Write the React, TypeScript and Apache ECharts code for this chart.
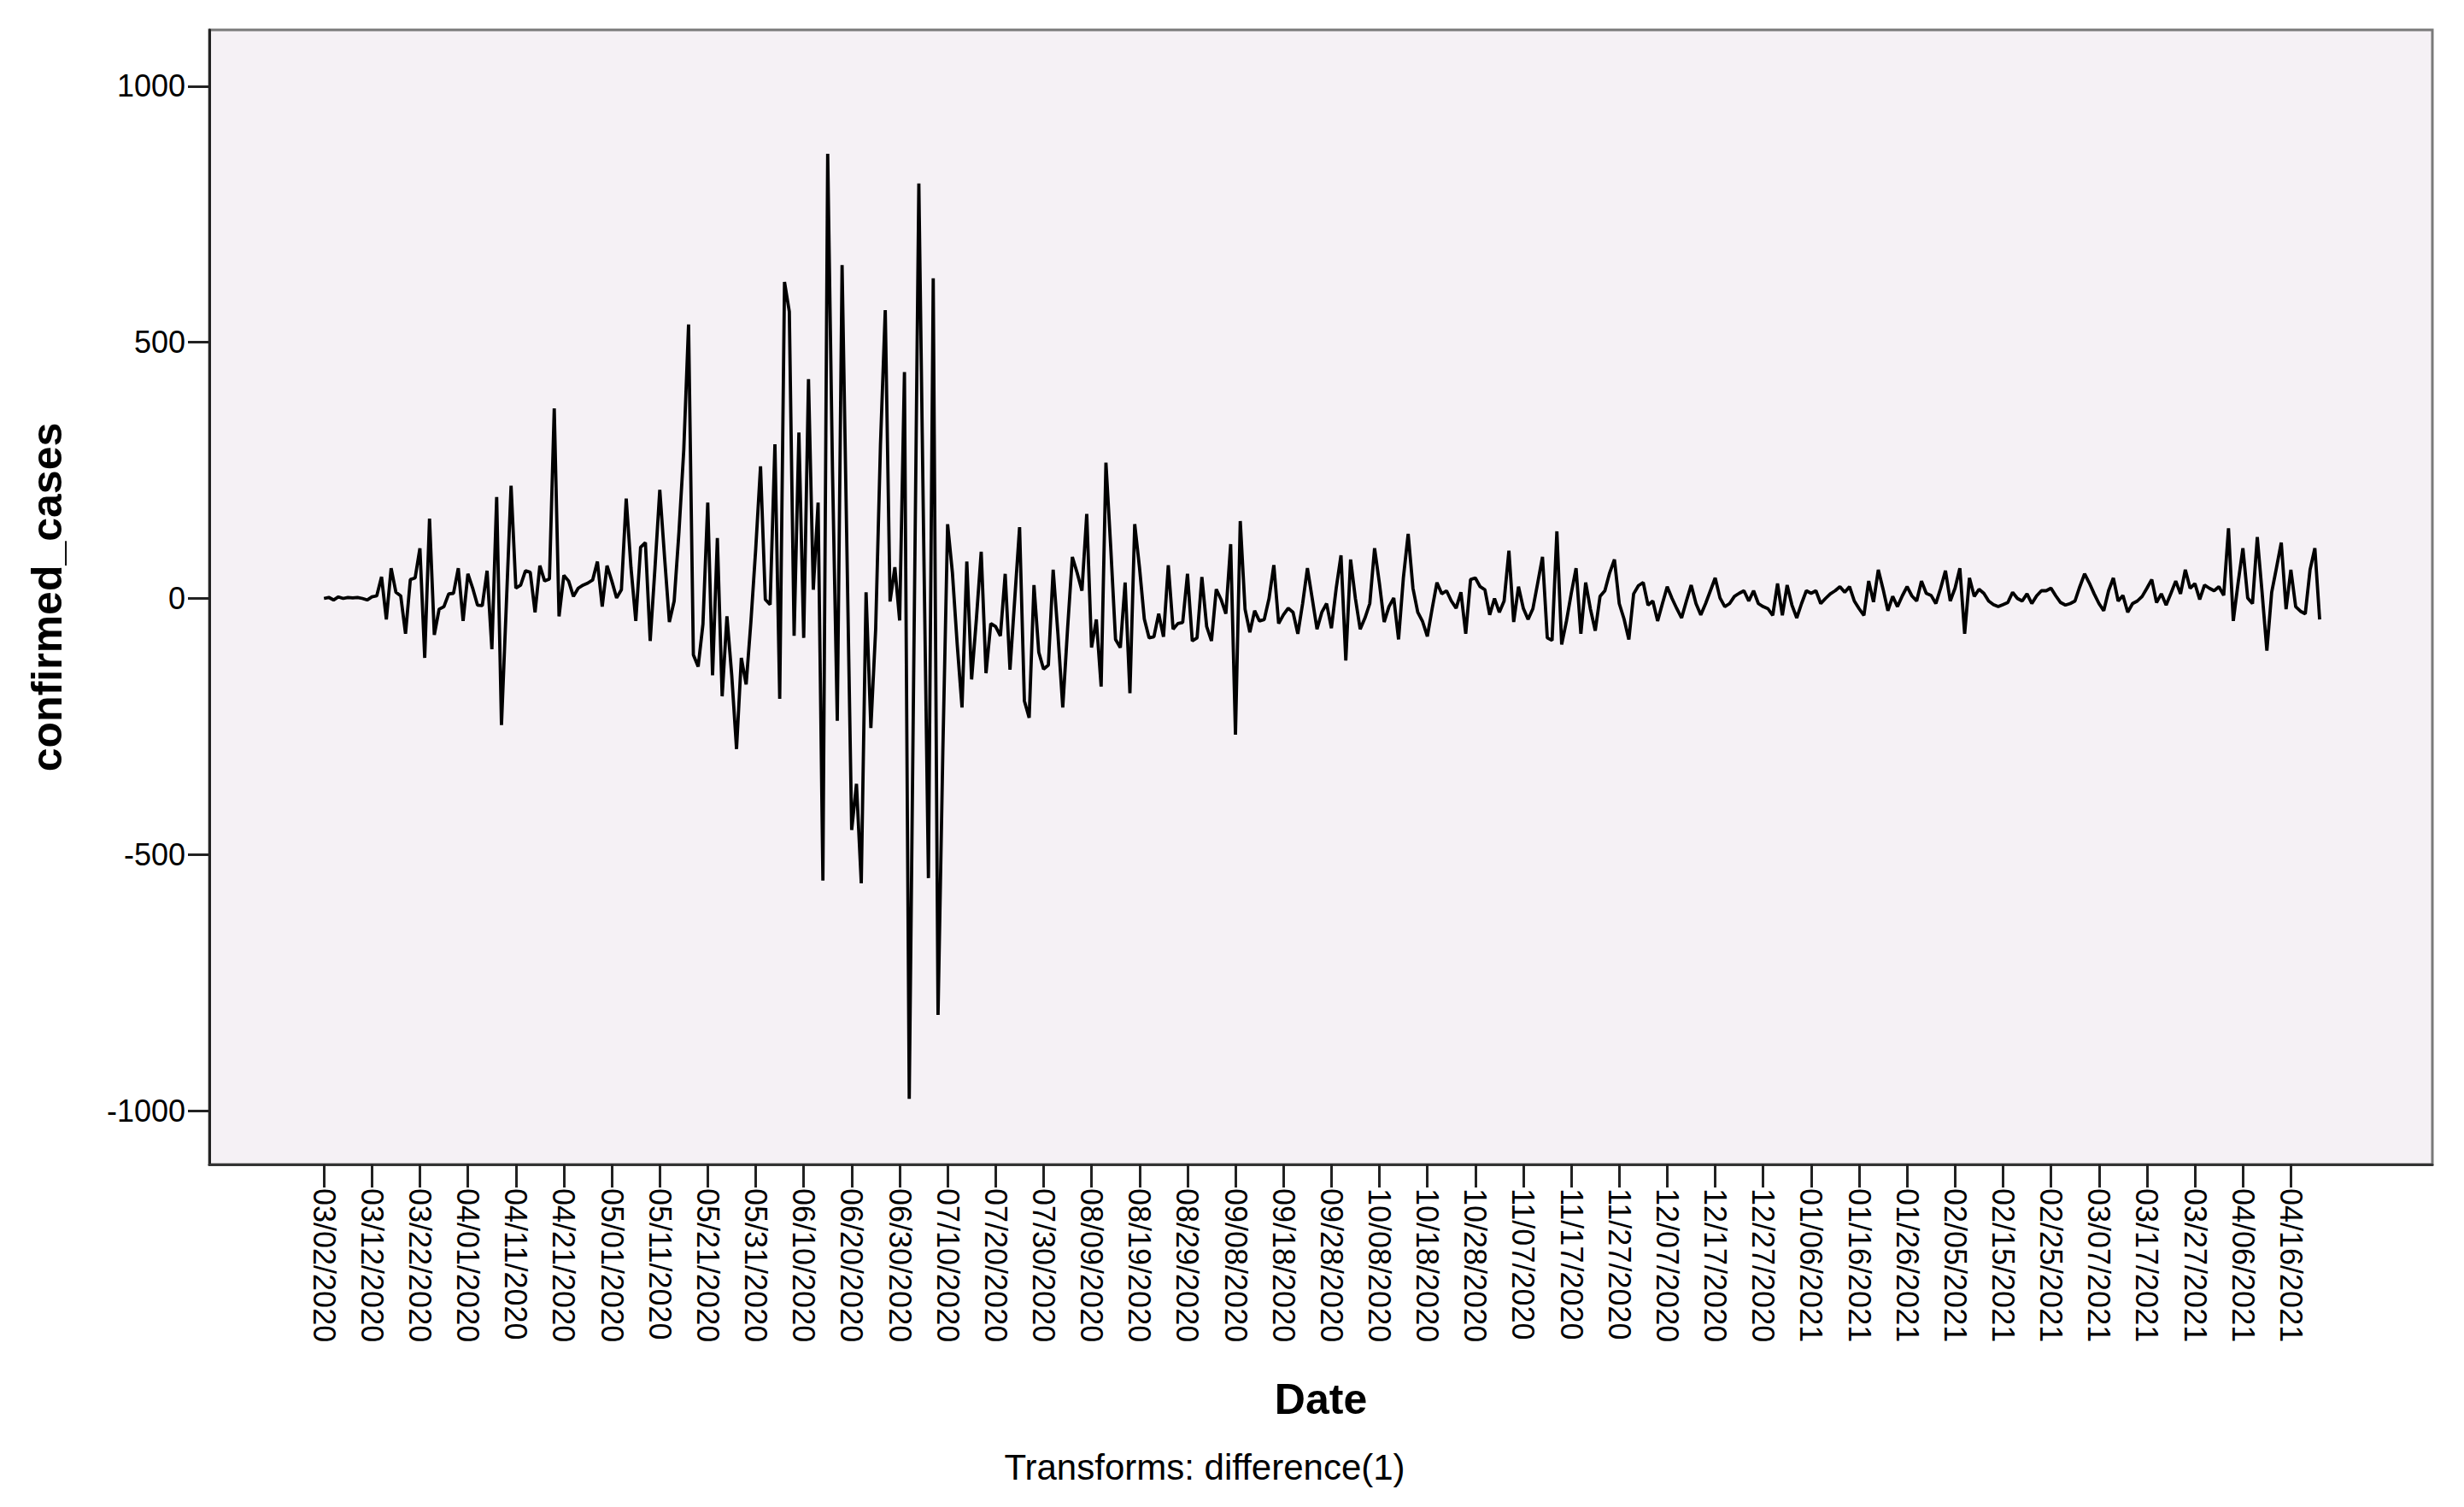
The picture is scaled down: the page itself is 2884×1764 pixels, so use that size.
import React, { useEffect, useRef } from "react";
import * as echarts from "echarts";

// First observation date of the plotted series (one value per day)
const START_YEAR = 2020;
const START_MONTH = 3;
const START_DAY = 2;

const TICK_LABELS = [
  "03/02/2020", "03/12/2020", "03/22/2020", "04/01/2020", "04/11/2020", "04/21/2020",
  "05/01/2020", "05/11/2020", "05/21/2020", "05/31/2020", "06/10/2020", "06/20/2020",
  "06/30/2020", "07/10/2020", "07/20/2020", "07/30/2020", "08/09/2020", "08/19/2020",
  "08/29/2020", "09/08/2020", "09/18/2020", "09/28/2020", "10/08/2020", "10/18/2020",
  "10/28/2020", "11/07/2020", "11/17/2020", "11/27/2020", "12/07/2020", "12/17/2020",
  "12/27/2020", "01/06/2021", "01/16/2021", "01/26/2021", "02/05/2021", "02/15/2021",
  "02/25/2021", "03/07/2021", "03/17/2021", "03/27/2021", "04/06/2021", "04/16/2021",
];

const Y_TICKS = [-1000, -500, 0, 500, 1000];

// differenced confirmed cases, in date order
const diffMarApr2020 = [
  0, 2, -3, 3, 0, 2, 1, 2, 0, -3,
  3, 5, 42, -41, 59, 12, 5, -69, 37, 40,
  98, -116, 156, -71, -21, -16, 9, 10, 59, -44,
  48, 20, -13, -14, 54, -99, 198, -247, -15, 220,
];
const diffAprMay2020 = [
  20, 26, 54, 51, -27, 64, 34, 38, 371, -35,
  45, 34, 4, 20, 26, 30, 36, 72, -16, 64,
  34, 1, 17, 195, 60, -44, 100, 109, -83, 60,
  212, 80, -46, -5, 130, 290, 535, -110, -133, -50,
  187, -150, 118, -191, -35, -150, -294,
];
const diffJun2020 = [
  -116, -168, -45, 97, 258, -2, -12, 301, -196, 618,
  560, -73, 324, -77, 428, 17, 187, -551, 868, 250,
  -239, 651, 100, -452, -362, -556, 12, -253,
];
const diffJul2020 = [
  -60, 300, 563, -6, 61, -43, 442, -977, -80, 810,
  120, -546, 625, -813, -300, 145, 50, -90, -213, 72,
  -158, -40, 91, -146, -49, -55, -73, 48, -139, 0,
  139, -200,
];
const diffAugSep2020 = [
  -233, 26, -105, -138, -130, 56, -70, -213, -60, 81,
  50, 15, 165, -96, -41, -172, 265, 100, -80, -96,
  31, -185, 145, 60, -40, -77, -75, -30, -75, 65,
  -60, -49, -47, 48, -83, -77, 42, -55, -83, 18,
  -2, -30, 106, -266, 151,
];
const diffSepOct2020 = [
  -21, -66, -24, -44, -41, 0, 65, -49, -32, -19,
  -27, -69, -10, 59, 0, -60, -27, -10, -58, 20,
  84, -121, 76, 0, -60, -38, -10, 98, 30, -46,
  -16, 1, -80, 40, 126, 20, -27, -45, -74, -20,
  31, 9, 15, -5, -19, 12, -69, 37, 40,
];
const diffNovDec2020 = [
  23, 17, -32, 0, -27, -5, 93, -46, 23, -19,
  -41, -20, 30, 81, -77, -82, 131, -90, -44, 10,
  59, -69, 31, -21, -63, 4, 15, 50, 76, -10,
  -40, -80, 9, 25, 31, -13, -5, -44, -10, 23,
  0, -20, -38, -5, 26, -10, -32, -10, 15, 40,
  1,
];
const diffDec2020Feb2021 = [
  -16, -10, 4, 10, 15, -5, 15, -10, -16, -20,
  -33, 29, -33, 26, -13, -38, -10, 15, 10, 15,
  -10, 0, 9, 15, 23, 12, 23, -5, -20, -33,
  34, -7, 56, 18, -24, 4, -16, 5, 23, 5,
  -5, 34, 10, 6, -10, 20, 54, -5, 20, 59,
];
const diffFebMar2021 = [
  -69, 40, 4, 18, 10, -5, -12, -16, -12, -8,
  12, 0, -5, 9, -10, 5, 15, 15, 20, 5,
  -8, -13, -10, -5, 23, 48, 30, 9, -10, -24,
  15, 40, -5, 6, -27, -10, -5, 4, 20, 37,
  -8, 9, -13, 10, 34,
];
const diffMarApr2021 = [
  9, 56, 20, 29, -2, 26, 20, 15, 23, 6,
  137, -44, 30, 98, 1, -10, 120, 12, -102, 12,
  60, 109, -21, 56, -16, -25, -30, 56, 98, -41,
];

const VALUES = [
  ...diffMarApr2020, ...diffAprMay2020, ...diffJun2020, ...diffJul2020,
  ...diffAugSep2020, ...diffSepOct2020, ...diffNovDec2020,
  ...diffDec2020Feb2021, ...diffFebMar2021, ...diffMarApr2021,
];

function buildDates(n: number): string[] {
  const out: string[] = [];
  const base = Date.UTC(START_YEAR, START_MONTH - 1, START_DAY);
  for (let i = 0; i < n; i++) {
    const d = new Date(base + i * 86400000);
    const mm = String(d.getUTCMonth() + 1).padStart(2, "0");
    const dd = String(d.getUTCDate()).padStart(2, "0");
    out.push(`${mm}/${dd}/${d.getUTCFullYear()}`);
  }
  return out;
}

const FONT = "'Liberation Sans', Arial, sans-serif";

export default function App() {
  const ref = useRef<HTMLDivElement>(null);

  useEffect(() => {
    document.body.style.margin = "0";
    if (!ref.current) return;
    const chart = echarts.init(ref.current, undefined, { renderer: "svg" });
    const dates = buildDates(VALUES.length);
    const tickIdx = TICK_LABELS.map((l) => dates.indexOf(l)).filter((i) => i >= 0);
    const data = VALUES.map((v, i) => [i, v]);

    chart.setOption({
      animation: false,
      backgroundColor: "#ffffff",
      grid: {
        left: 245,
        right: 37,
        top: 35,
        bottom: 401,
        show: true,
        backgroundColor: "#F5F1F5",
        borderColor: "#7a7a7a",
        borderWidth: 3,
      },
      xAxis: {
        type: "value",
        min: -23.9,
        max: 439.5,
        name: "Date",
        nameLocation: "middle",
        nameGap: 250,
        nameTextStyle: { fontFamily: FONT, fontWeight: "bold", fontSize: 50, color: "#000" },
        axisLine: { show: true, onZero: false, lineStyle: { color: "#333", width: 3 } },
        axisTick: {
          show: true,
          length: 27,
          customValues: tickIdx,
          lineStyle: { color: "#222", width: 3 },
        },
        axisLabel: {
          customValues: tickIdx,
          rotate: -90,
          margin: 28,
          fontFamily: FONT,
          fontSize: 36,
          color: "#000",
          formatter: (v: number) => dates[Math.round(v)] ?? "",
        },
        splitLine: { show: false },
      },
      yAxis: {
        type: "value",
        min: -1105,
        max: 1110,
        name: "confirmed_cases",
        nameLocation: "middle",
        nameGap: 165,
        nameTextStyle: { fontFamily: FONT, fontWeight: "bold", fontSize: 50, color: "#000" },
        axisLine: { show: true, onZero: false, lineStyle: { color: "#222", width: 3 } },
        axisTick: {
          show: true,
          length: 25,
          customValues: Y_TICKS,
          lineStyle: { color: "#222", width: 3 },
        },
        axisLabel: {
          customValues: Y_TICKS,
          margin: 28,
          fontFamily: FONT,
          fontSize: 36,
          color: "#000",
          formatter: (v: number) => String(Math.round(v)),
        },
        splitLine: { show: false },
      },
      graphic: [
        {
          type: "text",
          x: 1410,
          y: 1717,
          style: {
            text: "Transforms: difference(1)",
            fontFamily: FONT,
            fontSize: 42,
            fill: "#000",
            align: "center",
            verticalAlign: "middle",
          },
        },
      ],
      series: [
        {
          type: "line",
          data,
          symbol: "none",
          showSymbol: false,
          lineStyle: { color: "#000", width: 3.8 },
          silent: true,
        },
      ],
    });

    return () => chart.dispose();
  }, []);

  return <div ref={ref} style={{ width: 2884, height: 1764 }} />;
}
